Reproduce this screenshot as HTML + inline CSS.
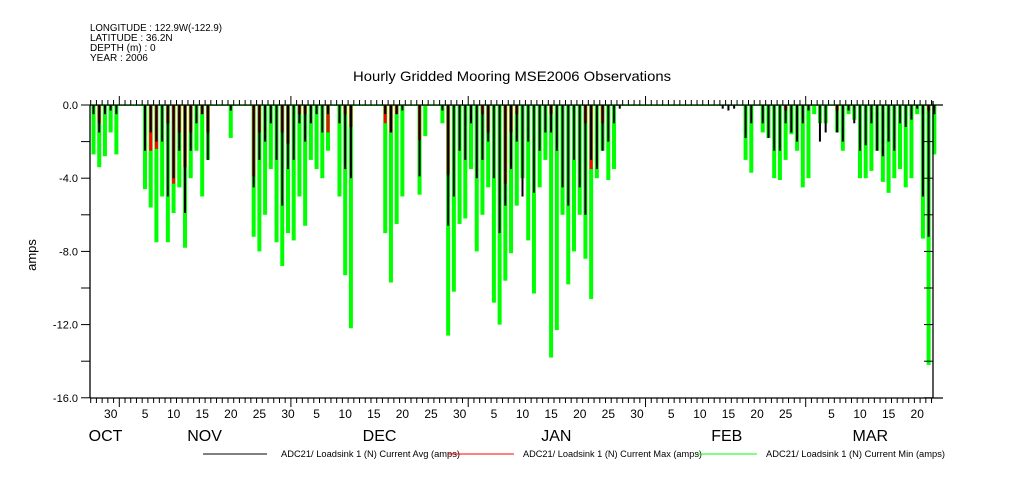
<!DOCTYPE html>
<html><head><meta charset="utf-8"><style>
html,body{margin:0;padding:0;background:#fff;}
svg{display:block;font-family:"Liberation Sans",sans-serif;}
</style></head><body>
<svg id="chart" width="1009" height="504" viewBox="0 0 1009 504" xmlns="http://www.w3.org/2000/svg">
<g font-size="10" fill="#000">
<text x="90" y="31" textLength="132" lengthAdjust="spacingAndGlyphs">LONGITUDE : 122.9W(-122.9)</text>
<text x="90" y="41">LATITUDE : 36.2N</text>
<text x="90" y="51">DEPTH (m) : 0</text>
<text x="90" y="61">YEAR : 2006</text>
</g>
<text x="512" y="81" font-size="14" text-anchor="middle" textLength="318" lengthAdjust="spacingAndGlyphs">Hourly Gridded Mooring MSE2006 Observations</text>
<text x="36" y="255" font-size="13" text-anchor="middle" transform="rotate(-90 36 255)">amps</text>
<g id="marks"></g>
<g id="axes"></g>
<g font-size="9">
<line x1="203" y1="454" x2="267" y2="454" stroke="#000" stroke-width="1"/>
<text x="281" y="457" textLength="179" lengthAdjust="spacingAndGlyphs">ADC21/ Loadsink 1 (N) Current Avg (amps)</text>
<line x1="448" y1="454" x2="514" y2="454" stroke="#f00" stroke-width="1"/>
<text x="523" y="457" textLength="179" lengthAdjust="spacingAndGlyphs">ADC21/ Loadsink 1 (N) Current Max (amps)</text>
<line x1="697" y1="454" x2="757" y2="454" stroke="#0f0" stroke-width="1"/>
<text x="766" y="457" textLength="179" lengthAdjust="spacingAndGlyphs">ADC21/ Loadsink 1 (N) Current Min (amps)</text>
</g>
</svg>
<script>
// day index 0 = Oct 27 2005
const minVals = [-2.7,-3.4,-2.8,-1.5,-2.7,0,0,0,0,-4.6,-5.6,-7.5,-5.0,-7.5,-5.9,-4.5,-7.8,-4.0,-2.5,-5.0,
-3.0,0,0,0,-1.8,0,0,0,-7.2,-8.0,-6.0,-3.5,-7.5,-8.8,-7.0,-7.4,-5.0,-6.6,-3.0,-3.5,
-4.0,-2.5,0,-5.0,-9.3,-12.2,0,0,0,0,0,-7.0,-9.7,-6.5,-5.0,0,0,-4.9,-1.7,0,
0,-1.0,-12.6,-10.2,-6.5,-6.2,-3.5,-8.0,-6.0,-4.5,-10.8,-12.0,-9.6,-8.1,-5.5,-4.0,-7.4,-10.3,-4.5,-3.0,
-13.8,-12.3,-6.0,-9.8,-8.0,-6.0,-8.4,-10.6,-4.0,-2.5,-4.1,-3.5,0,0,0,0,0,0,0,0,
0,0,0,0,0,0,0,0,0,0,0,0,0,0,-3.0,-3.7,0,-1.5,-1.8,-4.0,
-4.1,-3.0,-1.6,-2.5,-4.5,-4.0,-0.5,-1.0,-1.0,0,-1.5,-2.5,-0.5,-0.8,-4.0,-4.0,-3.6,-2.5,-4.2,-4.8,
-4.0,-3.5,-4.5,-4.0,-0.5,-7.3,-14.2,-2.7];
const avgVals = [-0.5,-1.5,-0.5,-0.3,-0.5,0,0,0,0,-2.5,-1.5,-2.0,-2.0,-5.0,-4.0,-2.5,-5.9,-2.5,-1.0,-0.5,
-3.0,0,0,0,-0.3,0,0,0,-4.5,-3.0,-2.0,-1.0,-3.0,-5.5,-3.5,-3.0,-1.0,-2.0,-1.0,-0.5,
-1.5,-0.5,0,-1.0,-3.5,-4.0,0,0,0,0,0,-0.5,-1.5,-0.5,-0.3,0,0,-3.9,0,0,
0,-0.3,-6.6,-5.0,-2.5,-3.0,-1.0,-4.0,-3.0,-2.0,-4.0,-7.0,-5.5,-3.5,-2.0,-5.0,-2.0,-4.8,-2.5,-1.5,
-1.5,-2.5,-4.5,-5.5,-3.0,-4.5,-6.0,-3.0,-3.5,-2.5,-2.0,-1.0,-0.2,0,0,0,0,0,0,0,
0,0,0,0,0,0,0,0,0,0,-0.2,-0.3,-0.2,0,-1.8,-1.0,0,-1.0,-1.8,-2.5,
-2.5,-1.0,-1.5,-2.0,-1.0,-0.3,0,-2.0,-1.5,0,-1.5,-2.0,-0.3,-1.0,-2.5,-2.2,-1.0,-2.5,-2.8,-2.0,
-2.5,-1.0,-1.2,-0.8,-0.2,-5.0,-7.2,-0.5];
const maxVals = [0,-1.0,0,0,0,0,0,0,0,0,-2.5,-2.4,0,-1.0,-4.3,-1.5,-3.4,-1.5,0,-0.5,
-1.5,0,0,0,0,0,0,0,-3.9,-1.5,0,0,0,-1.5,-2.1,0,-0.5,-0.5,0,0,
0,-1.5,0,0,-0.5,-1.2,0,0,0,0,0,-1.0,-1.5,-0.5,0,0,0,-1.9,0,0,
0,0,-3.8,0,0,0,0,0,-0.5,-1.5,0,0,-4.3,-1.5,-0.5,0,0,0,0,0,
-0.5,0,0,0,0,0,-1.0,-3.5,0,-1.0,0,0,0,0,0,0,0,0,0,0,
0,0,0,0,0,0,0,0,0,0,0,0,0,0,0,0,0,0,0,0,
0,-0.3,0,0,0,0,0,0,0,0,-0.3,0,0,0,0,0,0,0,0,0,
0,0,0,0,0,0,-0.3,0];
const dayTickLabels = ["30","5","10","15","20","25","30","5","10","15","20","25","30","5","10","15","20","25","30","5","10","15","20","25","5","10","15","20"];
const dayTickDays = [3,9,14,19,24,29,34,39,44,49,54,59,64,70,75,80,85,90,95,101,106,111,116,121,129,134,139,144];
const monthLabels = ["OCT","NOV","DEC","JAN","FEB","MAR"];
const monthLabelDays = [2.6,19.9,50.5,81.4,111.2,136.3];
const monthStartDays = [5,35,66,97,125];
const yTicks = [0,-2,-4,-6,-8,-10,-12,-14,-16];
const yTickLabels = ["0.0","","-4.0","","-8.0","","-12.0","","-16.0"];

const X0=90.7, PXD=5.72, Y0=105, PXU=18.3, LEFT=90, RIGHT=933, TOP=105, BOT=398;
const xs = d => X0 + d*PXD;
const ys = v => Y0 - v*PXU;
const NS="http://www.w3.org/2000/svg";
function mk(tag, attrs, parent){const e=document.createElementNS(NS,tag);for(const k in attrs)e.setAttribute(k,attrs[k]);parent.appendChild(e);return e;}
const marks=document.getElementById('marks'), axes=document.getElementById('axes');

const bl=mk('line',{x1:LEFT,y1:ys(0)+0.5,x2:RIGHT,y2:ys(0)+0.5,stroke:'#0f0','stroke-width':1},marks);



function bars(vals,color,w,off,name){
  vals.forEach((v,i)=>{
    if(v===0) return;
    const r=mk('rect',{x:xs(i)+off,y:ys(0),width:w,height:Math.max(0,ys(v)-ys(0)),fill:color},marks);
    
    
  });
}
bars(minVals,'#0f0',4,0.8,'min');
bars(maxVals,'#f00',3,1.3,'max');
bars(avgVals,'#000',2,1.8,'avg');

[[LEFT,TOP,RIGHT+10,TOP],[LEFT,BOT,RIGHT+10,BOT],[LEFT,TOP,LEFT,BOT],[RIGHT,TOP-4,RIGHT,BOT]].forEach((c,i)=>{
  const l=mk('line',{x1:c[0],y1:c[1],x2:c[2],y2:c[3],stroke:'#000','stroke-width':1.3},axes);
  
  
});
for(let d=0; d<=147; d++){
  const x=xs(d); const major=monthStartDays.includes(d); const len=major?9:5;
  const t=mk('line',{x1:x,y1:TOP,x2:x,y2:TOP-len,stroke:'#000','stroke-width':1},axes);
  
  
  const b=mk('line',{x1:x,y1:BOT,x2:x,y2:BOT+len,stroke:'#000','stroke-width':1},axes);
  
  
}
dayTickDays.forEach((d,i)=>{
  const t=mk('text',{x:xs(d+0.5),y:418,'font-size':12,'text-anchor':'middle'},axes);
  t.textContent=dayTickLabels[i];
  
  
});
monthLabels.forEach((m,i)=>{
  const t=mk('text',{x:xs(monthLabelDays[i]),y:441,'font-size':16,'text-anchor':'middle'},axes);
  t.textContent=m;
  
  
});
yTicks.forEach((v,i)=>{
  const y=ys(v);
  const a=mk('line',{x1:LEFT-9,y1:y,x2:LEFT,y2:y,stroke:'#000','stroke-width':1},axes);
  
  
  const b=mk('line',{x1:RIGHT-9,y1:y,x2:RIGHT,y2:y,stroke:'#000','stroke-width':1},axes);
  
  
  if(yTickLabels[i]){
    const t=mk('text',{x:78,y:y+4,'font-size':11,'text-anchor':'end'},axes);
    t.textContent=yTickLabels[i];
    
    
  }
});
</script>
</body></html>
